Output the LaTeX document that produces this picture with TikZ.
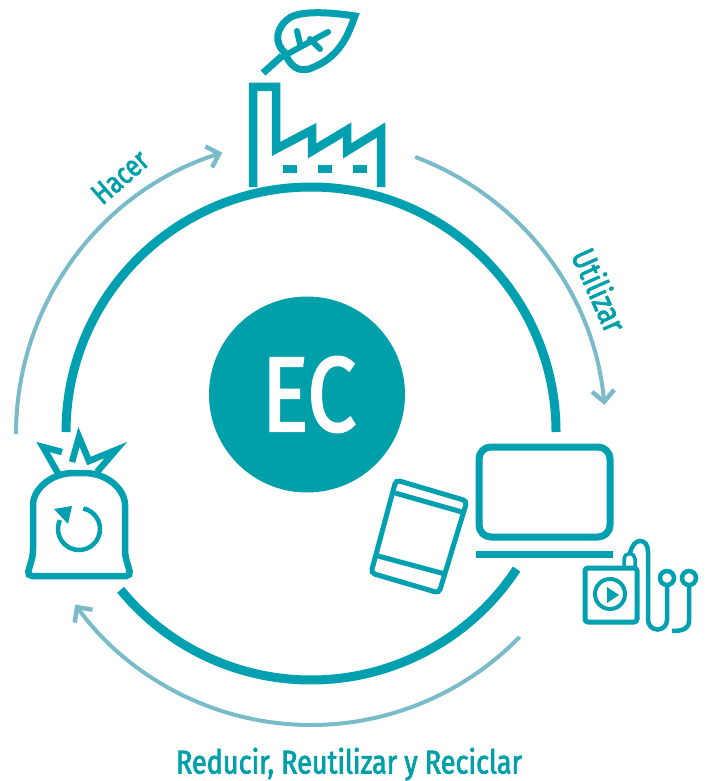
\documentclass[tikz,border=0pt]{standalone}
\usepackage{fontspec}
\setmainfont[FakeStretch=0.82,FakeBold=2.2]{Fira Sans}
\usetikzlibrary{arrows.meta,calc}
\definecolor{ringteal}{RGB}{0,160,176}
\definecolor{discteal}{RGB}{0,160,170}
\definecolor{flowblue}{RGB}{122,187,202}

\begin{document}
\begin{tikzpicture}[x=1pt,y=-1pt,
ring/.style={draw=ringteal,line width=9pt},
flow/.style={draw=flowblue,line width=4pt,-{Straight Barb[length=11pt,width=22pt,line width=4.5pt]}},
icon/.style={draw=ringteal,line width=#1,line join=miter},
icon/.default=6pt,
phase/.style={text=discteal,font=\fontsize{33}{38}\selectfont,inner sep=0pt}]
\useasboundingbox (0,0) rectangle (709,781);
\coordinate (ctr) at (311,434);

% outer ring, in two pieces
\coordinate (ringL) at (66,432);
\coordinate (ringB) at ($(ctr)+(33.3:246)$);
\draw[ring] (ringL) arc[start angle=180,end angle=360,radius=245];
\draw[ring] (ringB) arc[start angle=33.3,end angle=140.7,radius=246];

% arrows round the ring
\coordinate (hacerA) at ($(ctr)+(180:295)$);
\coordinate (utilA) at ($(ctr)+(290.6:296)$);
\coordinate (reduA) at ($(ctr)+(44.2:291)$);
\draw[flow] (hacerA) arc[start angle=180,end angle=252.5,radius=295];
\draw[flow] (utilA) arc[start angle=290.6,end angle=354.7,radius=294];
\draw[flow] (reduA) arc[start angle=44.2,end angle=144.1,radius=291];

\node[circle,fill=discteal,minimum size=196pt,inner sep=0pt] (ec) at (307,394.5) {};
\node[text=white,font=\fontsize{106}{120}\selectfont,anchor=base,inner sep=0pt] (ectext) at (309,431) {EC};

\node[phase,font=\fontsize{30}{36}\selectfont,rotate=41] (hacer) at (120,177) {Hacer};
\node[phase,rotate=-66] (utilizar) at (600,290) {Utilizar};
\node[phase,anchor=base] (reducir) at (349,773.5) {Reducir, Reutilizar y Reciclar};

% factory
\draw[icon=8.5pt] (253,187) -- (253,87) -- (276,87) -- (276,149) -- (312,130) -- (312,151)
	-- (347,130) -- (347,151) -- (381,130) -- (381,187);
\foreach \wx in {290,325,360}
	\fill[ringteal] (\wx-7,165) rectangle (\wx+7,173);

% leaf
\draw[icon=7pt,line cap=butt] (263,73) -- (282,56);
\draw[icon=7pt,line join=miter] (285,53) .. controls (274,43) and (275,27) .. (291,17)
	.. controls (305,10) and (335,13) .. (355,16)
	.. controls (348,35) and (340,58) .. (309,69)
	.. controls (298,72) and (290,66) .. (285,53);
\draw[icon=6pt,line cap=round] (282,57) -- (328,32);
\draw[icon=6pt,line cap=round] (297,31) -- (300,44);
\draw[icon=6pt,line cap=round] (310,39) -- (320,49);

% laptop
\draw[icon=7pt,rounded corners=12pt] (479,447) rectangle (610,537);
\draw[icon=7pt] (476,554) -- (613,554);

% tablet
\draw[icon=5pt,rounded corners=4pt] (396,480) -- (467,501) -- (439,593) -- (371,573) -- cycle;
\draw[icon=5pt] (395,493) -- (462,512);
\draw[icon=5pt] (378,556) -- (445,574);

% music player
\draw[icon=5pt,rounded corners=3pt] (585,568) rectangle (637,622);
\draw[icon=4pt] (610,594) circle (15);
\fill[ringteal] (607,587) -- (619,595) -- (607,603) -- cycle;
\draw[icon=3.5pt] (624,567) -- (624,559) arc[start angle=180,end angle=360,radius=5.5] -- (635,567);
\draw[icon=4.5pt] (630,553) .. controls (632,545) and (636,541) .. (640,541)
	.. controls (645,541) and (648,545) .. (648,552) -- (648,620)
	arc[start angle=180,end angle=0,radius=9.5] -- (667,586);
\draw[icon=4.5pt] (667,578) circle (7);
\draw[icon=4.5pt] (689,578) circle (7);
\draw[icon=4.5pt] (689,585) -- (689,621) .. controls (689,628) and (684,631) .. (672,631);

% bag
\draw[icon=6.5pt,rounded corners=5pt] (27,576) -- (131,576) -- (125,555) -- (125,510)
	.. controls (125,490) and (108,473) .. (79,473)
	.. controls (50,473) and (33,490) .. (33,510) -- (33,555) -- cycle;
\draw[icon=6.5pt] (59,475) -- (43,447) -- (62,452);
\draw[icon=6.5pt] (72,462) -- (79,437) -- (89,461) -- (116,450) -- (97,472);
\draw[icon=4.5pt] (79,529) ++(282:21) arc[start angle=282,end angle=565,radius=21];
\fill[ringteal] (54,509) -- (72,506) -- (68,524) -- cycle;
\end{tikzpicture}
\end{document}
